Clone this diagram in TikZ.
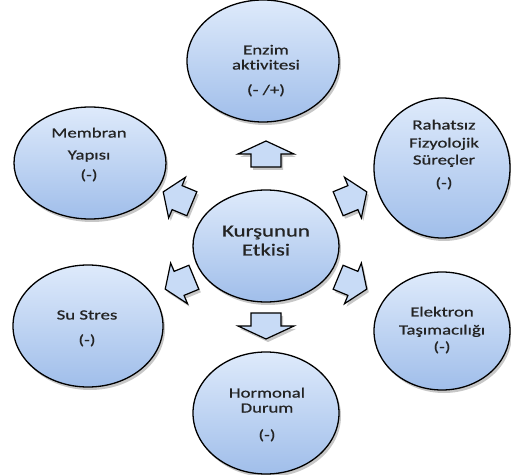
\documentclass[tikz,border=0pt]{standalone}
\usepackage{fontspec}
\setmainfont{Carlito}[FakeStretch=1.34, FakeBold=0.7, Ligatures={NoCommon}]
\usetikzlibrary{shapes.geometric,shadows}

\definecolor{bubtop}{RGB}{222,234,251}
\definecolor{bubbot}{RGB}{160,190,234}
\definecolor{arrfill}{RGB}{200,219,246}
\definecolor{txt}{RGB}{35,35,35}

\tikzset{
  softshadow/.style={drop shadow={shadow xshift=2pt, shadow yshift=-3pt, opacity=.22, fill=black}},
  bubble/.style={ellipse, draw=black, line width=1.3pt, inner sep=0pt,
    top color=bubtop, bottom color=bubbot, softshadow},
  arrowbody/.style={draw=black, line width=1.2pt, fill=arrfill, line join=miter, softshadow},
  lbl/.style={text=txt, inner sep=0pt, font=\fontsize{14}{16}\selectfont,
    text height=9pt, text depth=0pt},
  biglbl/.style={text=txt, inner sep=0pt, font=\fontsize{17}{19}\selectfont,
    text height=11pt, text depth=0pt},
  % straight block arrow, pointing along +x
  vblock/.pic={\path[arrowbody] (-13,-15) -- (0,-15) -- (0,-28) -- (13,0)
      -- (0,28) -- (0,15) -- (-13,15) -- cycle;},
  % slanted block arrow, pointing along +x
  dblock/.pic={\path[arrowbody] (-15,-13) -- (1,-13) -- (1,-22) -- (16,0)
      -- (1,22) -- (1,13) -- (-15,13) -- cycle;}
}

\begin{document}
\begin{tikzpicture}[x=1pt,y=1pt]
\useasboundingbox (0,0) rectangle (511,474);

% outer bubbles
\node[bubble, minimum width=152pt, minimum height=122pt] (enz) at (263,413) {};
\node[bubble, minimum width=152pt, minimum height=112pt] (mem) at (90,311) {};
\node[bubble, minimum width=136pt, minimum height=140pt] (rah) at (442,306) {};
\node[bubble, minimum width=150pt, minimum height=122pt] (su)  at (88,148) {};
\node[bubble, minimum width=136pt, minimum height=118pt] (ele) at (442,143) {};
\node[bubble, minimum width=146pt, minimum height=122pt] (hor) at (266,61) {};

% central bubble
\node[bubble, minimum width=146pt, minimum height=112pt] (kur) at (266,228) {};

% block arrows from the centre outwards
\pic[rotate=90]     (aup) at (266,320) {vblock};
\pic[rotate=-90]    (adn) at (266,148) {vblock};
\pic[rotate=157.5]  (aul) at (178,276) {dblock};
\pic[rotate=22.5]   (aur) at (352,276) {dblock};
\pic[rotate=-157.5] (all) at (180,191) {dblock};
\pic[rotate=-22.5]  (alr) at (352,191) {dblock};

% labels
\node[lbl] (enz1) at (266,424) {Enzim};
\node[lbl] (enz2) at (266,409) {aktivitesi};
\node[lbl] (enz3) at (266,384) {(- /+)};

\node[lbl] (mem1) at (89,341) {Membran};
\node[lbl] (mem2) at (89,319) {Yapısı};
\node[lbl] (mem3) at (89,299) {(-)};

\node[lbl] (rah1) at (444,349) {Rahatsız};
\node[lbl] (rah2) at (444,331) {Fizyolojik};
\node[lbl] (rah3) at (444,314) {Süreçler};
\node[lbl] (rah4) at (444,291) {(-)};

\node[biglbl] (kur1) at (266,243) {Kurşunun};
\node[biglbl] (kur2) at (266,224) {Etkisi};

\node[lbl] (su1) at (87,159) {Su Stres};
\node[lbl] (su2) at (87,134) {(-)};

\node[lbl] (ele1) at (442,162) {Elektron};
\node[lbl] (ele2) at (442,144) {Taşımacılığı};
\node[lbl] (ele3) at (442,127) {(-)};

\node[lbl] (hor1) at (267,81) {Hormonal};
\node[lbl] (hor2) at (267,66) {Durum};
\node[lbl] (hor3) at (267,39) {(-)};
\end{tikzpicture}
\end{document}
